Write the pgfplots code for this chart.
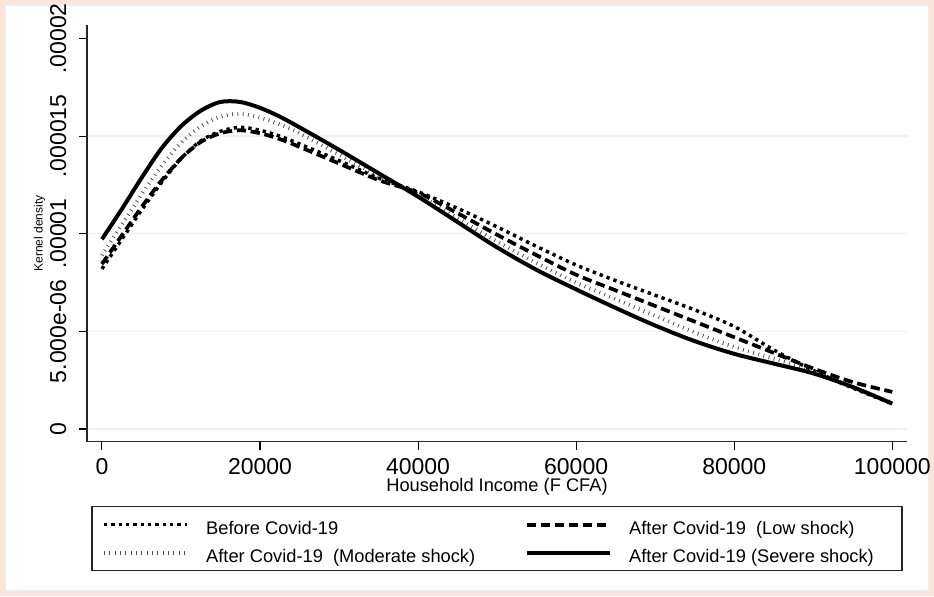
\documentclass[border=0pt]{standalone}
\usepackage{fontspec}
\setmainfont{Liberation Sans}
\usepackage{pgfplots}
\pgfplotsset{compat=1.18}
\usepackage{pgfplotstable}
\definecolor{pinkbg}{RGB}{252,229,216}
\definecolor{framecol}{RGB}{230,239,241}
\definecolor{gridcol}{RGB}{234,242,243}

\pgfplotstableread{
x y
0 8.2
2500 9.7
5000 11.2
7500 12.6
10000 13.85
12500 14.75
15000 15.25
17500 15.45
20000 15.3
22500 15.0
25000 14.6
30000 13.75
35000 12.85
40000 12.15
45000 11.3
50000 10.35
55000 9.35
60000 8.4
65000 7.6
70000 6.85
75000 6.1
80000 5.25
85000 4.05
90000 3.0
95000 2.1
100000 1.3
}\before

\pgfplotstableread{
x y
0 8.45
2500 9.9
5000 11.35
7500 12.7
10000 13.85
12500 14.7
15000 15.15
17500 15.3
20000 15.15
22500 14.85
25000 14.45
30000 13.6
35000 12.75
40000 12.1
45000 11.05
50000 9.95
55000 8.9
60000 7.9
65000 7.1
70000 6.3
75000 5.5
80000 4.7
85000 3.9
90000 3.1
95000 2.4
100000 1.9
}\low

\pgfplotstableread{
x y
0 8.9
2500 10.45
5000 12.0
7500 13.45
10000 14.65
12500 15.5
15000 16.0
17500 16.15
20000 15.95
22500 15.6
25000 15.15
30000 14.05
35000 12.95
40000 12.0
45000 10.8
50000 9.6
55000 8.5
60000 7.5
65000 6.65
70000 5.8
75000 4.95
80000 4.2
85000 3.6
90000 2.95
95000 2.15
100000 1.35
}\moderate

\pgfplotstableread{
x y
0 9.72
2500 11.25
5000 12.85
7500 14.35
10000 15.5
12500 16.3
15000 16.75
17500 16.75
20000 16.45
22500 16.0
25000 15.45
30000 14.3
35000 13.1
40000 11.9
45000 10.6
50000 9.3
55000 8.15
60000 7.15
65000 6.2
70000 5.3
75000 4.5
80000 3.85
85000 3.35
90000 2.85
95000 2.15
100000 1.3
}\severe

\begin{document}
\begin{tikzpicture}
\path[use as bounding box] (0,0) rectangle (700.5pt,447pt);
\fill[pinkbg] (0,0) rectangle (700.5pt,447pt);
\filldraw[fill=white, draw=framecol, line width=1.1pt] (4.1pt,4.1pt) rectangle (696.4pt,443.2pt);
\begin{axis}[
  at={(65.25pt,115.725pt)}, anchor=south west,
  scale only axis, width=615pt, height=312.5pt,
  xmin=-1885, xmax=101860, ymin=-0.65, ymax=20.69,
  axis x line*=bottom, axis y line*=left,
  axis line style={-, line width=1.1pt, black!85},
  tick align=outside,
  major tick length=6pt,
  tick style={black, line width=0.8pt},
  scaled x ticks=false, scaled y ticks=false,
  xtick={0,20000,40000,60000,80000,100000},
  xticklabels={0,20000,40000,60000,80000,100000},
  ytick={0,5,10,15},
  yticklabels={0,5.000e-06,.00001,.000015},
  extra y ticks={20}, extra y tick labels={.00002},
  extra y tick style={grid=none},
  ymajorgrids, grid style={gridcol, line width=1.1pt},
  ticklabel style={font=\fontsize{17.25}{20}\selectfont, inner sep=0pt},
  xticklabel style={anchor=north, yshift=-6pt},
  yticklabel style={xshift=-9.75pt, rotate=90, anchor=base},
  xlabel={Household Income (F CFA)},
  xlabel style={font=\fontsize{13.7}{16}\selectfont, at={(axis description cs:0.5,-0.1195)}, anchor=base, inner sep=0pt},
  ylabel={Kernel density},
  ylabel style={font=\fontsize{9}{10}\selectfont, at={(axis description cs:-0.0541,0.5)}, anchor=base, inner sep=0pt},
  legend columns=2,
  legend cell align=left,
  legend image code/.code={\draw[#1] (0pt,0pt) -- (62.25pt,0pt);},
  legend style={at={(axis description cs:0.5,-0.1543)}, anchor=north,
    draw=black!85, line width=1pt, inner xsep=7.5pt, inner ysep=4.5pt,
    font=\fontsize{13.7}{16}\selectfont,
    nodes={inner sep=0pt},
    row sep=3pt,
    /tikz/every odd column/.append style={column sep=13pt},
    /tikz/every even column/.append style={column sep=0pt}},
]
\addplot[black, line width=2.6pt, dash pattern=on 2.5pt off 3pt, smooth] table[x=x,y=y] {\before};
\addlegendentry{\makebox[239pt][l]{\rule[-5.25pt]{0pt}{21.75pt}Before Covid-19}}
\addplot[black, line width=2.8pt, dash pattern=on 7pt off 3.5pt, smooth] table[x=x,y=y] {\low};
\addlegendentry{\makebox[197pt][l]{\rule[-5.25pt]{0pt}{21.75pt}After Covid-19\ \ (Low shock)}}
\addplot[black!70, line width=2.8pt, dash pattern=on 0.6pt off 3.4pt, smooth] table[x=x,y=y] {\moderate};
\addlegendentry{\makebox[239pt][l]{\rule[-5.25pt]{0pt}{21.75pt}After Covid-19\ \ (Moderate shock)}}
\addplot[black, line width=3pt, smooth] table[x=x,y=y] {\severe};
\addlegendentry{\makebox[197pt][l]{\rule[-5.25pt]{0pt}{21.75pt}After Covid-19 (Severe shock)}}
\end{axis}
\end{tikzpicture}
\end{document}
